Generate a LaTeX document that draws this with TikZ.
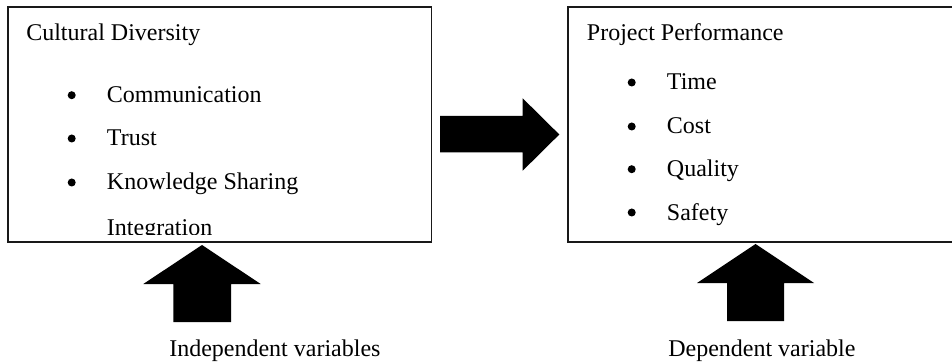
\documentclass[tikz,border=0pt]{standalone}
\usepackage{fontspec}
\setmainfont{Liberation Serif}
\begin{document}
\begin{tikzpicture}[x=0.75pt,y=-0.75pt,
  txt/.style={anchor=base west, inner sep=0pt, font=\fontsize{18}{22}\selectfont},
  frame/.style={draw=black!90, line width=1.4pt},
  blk/.style={fill=black},
  dot/.style={circle, fill=black, inner sep=0pt, minimum size=6pt}]
\useasboundingbox (0,0) rectangle (952,363);

% boxes
\draw[frame] (8.3,7.3) rectangle (431.5,241.7);
\coordinate (lbox) at (220,124);
\draw[frame] (953,7.3) -- (568,7.3) -- (568,241.7) -- (953,241.7);
\coordinate (rbox) at (760,124);

% left box text
\node[txt] (ltitle) at (26,40.7) {Cultural Diversity};
\node[dot] (lb1) at (71.7,95.2) {};
\node[txt] (l1) at (106.7,102.7) {Communication};
\node[dot] (lb2) at (71.7,138.5) {};
\node[txt] (l2) at (106.7,146) {Trust};
\node[dot] (lb3) at (71.7,182.5) {};
\node[txt] (l3) at (106.7,190) {Knowledge Sharing};
\begin{scope}
  \clip (0,0) rectangle (952,234.3);
  \node[txt] (l4) at (106.7,235) {Integration};
\end{scope}

% right box text
\node[txt] (rtitle) at (586.7,40.3) {Project Performance};
\node[dot] (rb1) at (631.7,82.5) {};
\node[txt] (r1) at (666.7,90) {Time};
\node[dot] (rb2) at (631.7,126.5) {};
\node[txt] (r2) at (666.7,134) {Cost};
\node[dot] (rb3) at (631.7,169.2) {};
\node[txt] (r3) at (666.7,176.7) {Quality};
\node[dot] (rb4) at (631.7,212.5) {};
\node[txt] (r4) at (666.7,220) {Safety};

% horizontal block arrow
\fill[blk] (440,116) -- (522.7,116) -- (522.7,98.3) -- (559.3,134.5)
  -- (522.7,170.7) -- (522.7,152.3) -- (440,152.3) -- cycle;

% up block arrows
\fill[blk] (173.3,322) -- (173.3,284) -- (143.3,284) -- (202,245)
  -- (260.7,284) -- (231,284) -- (231,322) -- cycle;
\fill[blk] (727,321) -- (727,283) -- (697,283) -- (755.5,244)
  -- (814,283) -- (784,283) -- (784,321) -- cycle;

% captions
\node[txt] (indep) at (169,356.7) {Independent variables};
\node[txt] (dep) at (668,356.7) {Dependent variable};
\end{tikzpicture}
\end{document}
